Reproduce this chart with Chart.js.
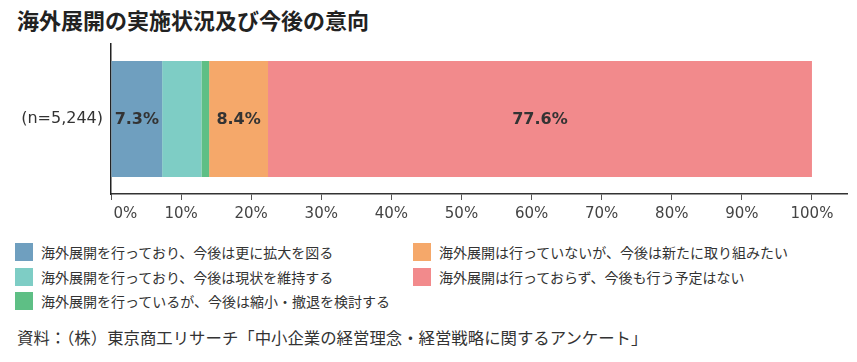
<!DOCTYPE html>
<html>
<head>
<meta charset="utf-8">
<script src="https://cdn.jsdelivr.net/npm/chart.js@4"></script>
<style>
  body { margin: 0; width: 857px; height: 362px; background: #fff; position: relative; overflow: hidden;
         font-family: "Noto Sans CJK JP", "DejaVu Sans", sans-serif; color: #333; }
  #title { position: absolute; left: 17px; top: 3px; font-size: 22px; font-weight: bold; color: #222; }
  #box { position: absolute; left: 0; top: 0; width: 857px; height: 232px; }
  #legend { position: absolute; left: 15px; top: 240px; display: grid; grid-template-rows: repeat(3, 24.5px);
            grid-auto-flow: column; grid-template-columns: 398px 420px; }
  .item { display: flex; align-items: center; font-size: 14px; color: #333; }
  .sw { width: 18px; height: 18px; margin-right: 8px; flex: none; }
  #source { position: absolute; left: 17px; top: 325px; font-size: 16.4px; color: #333; }
</style>
</head>
<body>
<div id="title">海外展開の実施状況及び今後の意向</div>
<div id="box"><canvas id="chart"></canvas></div>
<div id="legend"></div>
<div id="source">資料：（株）東京商工リサーチ「中小企業の経営理念・経営戦略に関するアンケート」</div>
<script>
// データ
const categories = ['(n=5,244)'];
const seriesNames = [
    '海外展開を行っており、今後は更に拡大を図る',
    '海外展開を行っており、今後は現状を維持する',
    '海外展開を行っているが、今後は縮小・撤退を検討する',
    '海外展開は行っていないが、今後は新たに取り組みたい',
    '海外展開は行っておらず、今後も行う予定はない'
];
const seriesValues = [7.3, 5.6, 1.1, 8.4, 77.6];
const seriesColors = ['#6f9fbf', '#7ecdc5', '#5ebf85', '#f5a86a', '#f28a8c'];
const xTicks = [0, 10, 20, 30, 40, 50, 60, 70, 80, 90, 100];

// 凡例
const legendEl = document.getElementById('legend');
seriesNames.forEach((name, i) => {
    const item = document.createElement('div');
    item.className = 'item';
    item.innerHTML = `<span class="sw" style="background:${seriesColors[i]}"></span>${name}`;
    legendEl.appendChild(item);
});

// 棒の中に値ラベルを描く
const valueLabels = {
    id: 'valueLabels',
    afterDatasetsDraw(chart) {
        const ctx = chart.ctx;
        ctx.save();
        ctx.font = 'bold 16px "DejaVu Sans"';
        ctx.fillStyle = '#333';
        ctx.textAlign = 'center';
        ctx.textBaseline = 'middle';
        chart.data.datasets.forEach((ds, i) => {
            const v = ds.data[0];
            if (v < 7) return;
            const bar = chart.getDatasetMeta(i).data[0];
            ctx.fillText(v.toFixed(1) + '%', (bar.x + bar.base) / 2, bar.y + 1);
        });
        ctx.restore();
    }
};

const ctx = document.getElementById('chart').getContext('2d');
new Chart(ctx, {
    type: 'bar',
    data: {
        labels: categories,
        datasets: seriesNames.map((name, i) => ({
            label: name,
            data: [seriesValues[i]],
            backgroundColor: seriesColors[i],
            borderWidth: 0,
            barPercentage: 0.773,
            categoryPercentage: 1
        }))
    },
    options: {
        indexAxis: 'y',
        responsive: true,
        maintainAspectRatio: false,
        animation: false,
        layout: { padding: { top: 44, left: 0, right: 10, bottom: 0 } },
        scales: {
            x: {
                stacked: true,
                min: 0,
                max: 105,
                afterBuildTicks: (axis) => {
                    axis.ticks = xTicks.map(v => ({ value: v }));
                },
                afterFit: (scale) => { scale.height = 38; },
                grid: { drawOnChartArea: false, drawTicks: true, tickLength: 6, color: '#555' },
                border: { display: true, color: '#333', width: 1.5 },
                ticks: {
                    padding: 5,
                    color: '#444',
                    font: { family: 'DejaVu Sans', size: 15 },
                    // 0% は軸線と重ならないよう少し右へ
                    callback: (value) => value === 0 ? '      0%' : value + '%'
                }
            },
            y: {
                stacked: true,
                afterFit: (scale) => { scale.width = 111; },
                grid: { display: false },
                border: { display: true, color: '#222', width: 1.5 },
                ticks: {
                    padding: 0,
                    color: '#333',
                    font: { family: 'DejaVu Sans', size: 16 }
                }
            }
        },
        plugins: {
            legend: { display: false },
            tooltip: { enabled: false }
        }
    },
    plugins: [valueLabels]
});
</script>
</body>
</html>
